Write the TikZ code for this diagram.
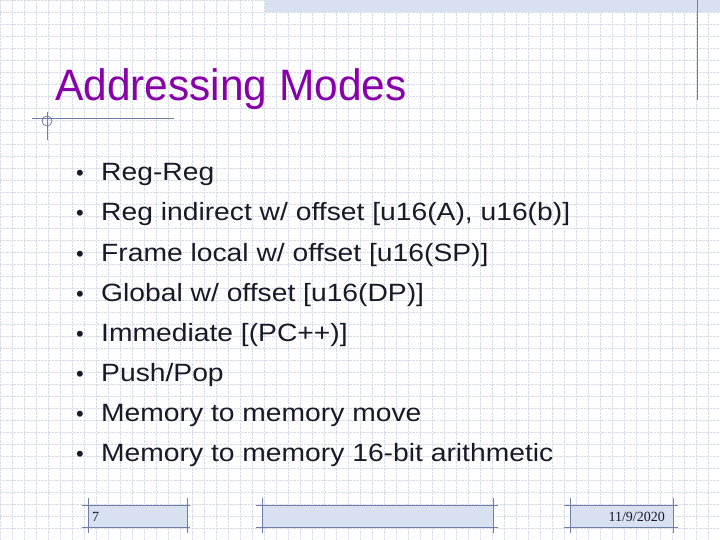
\documentclass[tikz,border=0pt]{standalone}
\usepackage{fontspec}
\setmainfont{Liberation Sans}
\newfontfamily\wideface[FakeStretch=1.13]{Liberation Sans}
\newfontfamily\titleface[FakeStretch=0.965]{Liberation Sans}
\newfontfamily\footface{Liberation Serif}
\definecolor{gridc}{RGB}{215,220,232}
\definecolor{linec}{RGB}{110,125,170}
\definecolor{fillc}{RGB}{215,225,240}
\definecolor{titlec}{RGB}{135,0,170}
\definecolor{textc}{RGB}{25,25,40}
\begin{document}
\begin{tikzpicture}[x=1pt,y=-1pt,
  item/.style={anchor=base west,font=\wideface\fontsize{25}{25}\selectfont,text=textc,inner sep=0},
  bul/.style={anchor=base,font=\fontsize{22}{22}\selectfont,text=textc,inner sep=0},
  footbox/.style={draw=linec,fill=fillc,line width=0.8pt},
  deco/.style={draw=linec,line width=0.8pt}]
\useasboundingbox (0,0) rectangle (720,540);
\fill[white] (0,0) rectangle (720,540);
\foreach \x in {0,12,...,720} \draw[gridc,densely dotted,line width=0.4pt] (\x,0) -- (\x,540);
\foreach \y in {0,12,...,540} \draw[gridc,densely dotted,line width=0.4pt] (0,\y) -- (720,\y);
% top band
\fill[fillc] (265,0) rectangle (720,12);
\draw[deco] (697,0) -- (697,100);
% title
\node[anchor=base west,inner sep=0,text=titlec,font=\titleface\fontsize{44}{44}\selectfont] (title) at (55,101) {Addressing Modes};
\draw[deco] (32,118) -- (174,118);
\draw[deco] (47,112) -- (47,140);
\draw[deco] (47,121) circle (5);
% items
\foreach \t [count=\i] in {Reg-Reg,Reg indirect w/ offset [u16(A){,} u16(b)],Frame local w/ offset [u16(SP)],Global w/ offset [u16(DP)],Immediate [(PC++)],Push/Pop,Memory to memory move,Memory to memory 16-bit arithmetic}{
  \node[bul] (b\i) at (80,141+40*\i) {•};
  \node[item] (t\i) at (101,141+40*\i) {\t};
}
% footer
\draw[footbox] (88,505) rectangle (187,527);
\draw[deco] (88,498) -- (88,533) (187,498) -- (187,533) (82,505) -- (190,505) (82,527) -- (190,527);
\node[anchor=base west,inner sep=0,font=\footface\fontsize{14}{14}\selectfont,text=textc] (pg) at (92,521) {7};
\draw[footbox] (262,505) rectangle (493,527);
\draw[deco] (262,498) -- (262,533) (493,498) -- (493,533) (256,505) -- (498,505) (256,527) -- (498,527);
\draw[footbox] (570,505) rectangle (673,527);
\draw[deco] (570,498) -- (570,533) (673,498) -- (673,533) (564,505) -- (678,505) (564,527) -- (678,527);
\node[anchor=base east,inner sep=0,font=\footface\fontsize{14}{14}\selectfont,text=textc] (dt) at (665,521) {11/9/2020};
\end{tikzpicture}
\end{document}
